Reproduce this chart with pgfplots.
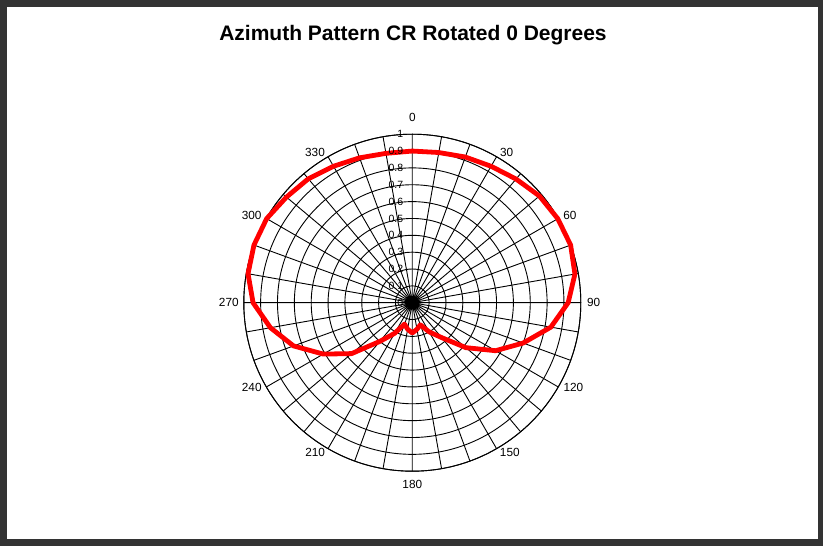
\documentclass[border=0pt]{standalone}
\usepackage{fontspec}
\setmainfont{Liberation Sans}
\usepackage{pgfplots}
\usepgfplotslibrary{polar}
\pgfplotsset{compat=1.18}
\usepackage{pgfplotstable}

\pgfplotstableread{
angle r
0 0.900
10 0.905
20 0.920
30 0.935
40 0.958
50 0.985
60 0.997
70 1.000
80 0.980
90 0.925
100 0.835
110 0.700
120 0.570
130 0.415
140 0.270
150 0.200
160 0.140
170 0.160
180 0.180
190 0.160
200 0.135
210 0.210
220 0.300
230 0.470
240 0.610
250 0.750
260 0.855
270 0.945
280 0.990
290 1.000
300 0.998
310 0.975
320 0.960
330 0.935
340 0.915
350 0.900
360 0.900
}\azdata

\tikzset{alab/.style={font=\fontsize{11.8}{13}\selectfont},
  rlab/.style={font=\fontsize{10.5}{12}\selectfont, anchor=east, xshift=-9pt, inner sep=0pt}}

\begin{document}
\begin{tikzpicture}[x=1pt,y=1pt]
\fill[black!80] (0,0) rectangle (823,546);
\fill[white] (7,7) rectangle (818,539);
\node[anchor=base, font=\fontsize{21}{25}\selectfont\bfseries] at (413,505) {Azimuth Pattern CR Rotated 0 Degrees};
\begin{polaraxis}[
  at={(412.3pt,243.3pt)}, anchor=center,
  scale only axis, width=337pt, height=337pt,
  ymin=0, ymax=1,
  ytick={0,0.1,0.2,0.3,0.4,0.5,0.6,0.7,0.8,0.9,1},
  yticklabels={},
  xtick={0,10,...,350},
  xticklabels={},
  grid=major,
  major grid style={black, line width=0.9pt},
  axis line style={black, line width=0.9pt},
  major tick length=0pt, minor tick length=0pt,
  clip=false,
]
\addplot[red, line width=4.8pt, line join=round, mark=none, x filter/.expression={90-x}] table[x=angle, y=r] {\azdata};
\node[alab] at (axis cs:90,1.10) {0};
\node[alab] at (axis cs:57.9,1.054) {30};
\node[alab] at (axis cs:28.9,1.069) {60};
\node[alab] at (axis cs:0,1.076) {90};
\node[alab] at (axis cs:-27.8,1.081) {120};
\node[alab] at (axis cs:-56.9,1.060) {150};
\node[alab] at (axis cs:-90,1.078) {180};
\node[alab] at (axis cs:-123,1.059) {210};
\node[alab] at (axis cs:-152.1,1.078) {240};
\node[alab] at (axis cs:-180,1.089) {270};
\node[alab] at (axis cs:-208.4,1.084) {300};
\node[alab] at (axis cs:-237.1,1.063) {330};
\node[rlab] at (axis cs:90,0) {0};
\node[rlab] at (axis cs:90,0.1) {0.1};
\node[rlab] at (axis cs:90,0.2) {0.2};
\node[rlab] at (axis cs:90,0.3) {0.3};
\node[rlab] at (axis cs:90,0.4) {0.4};
\node[rlab] at (axis cs:90,0.5) {0.5};
\node[rlab] at (axis cs:90,0.6) {0.6};
\node[rlab] at (axis cs:90,0.7) {0.7};
\node[rlab] at (axis cs:90,0.8) {0.8};
\node[rlab] at (axis cs:90,0.9) {0.9};
\node[rlab] at (axis cs:90,1) {1};
\end{polaraxis}
\end{tikzpicture}
\end{document}
